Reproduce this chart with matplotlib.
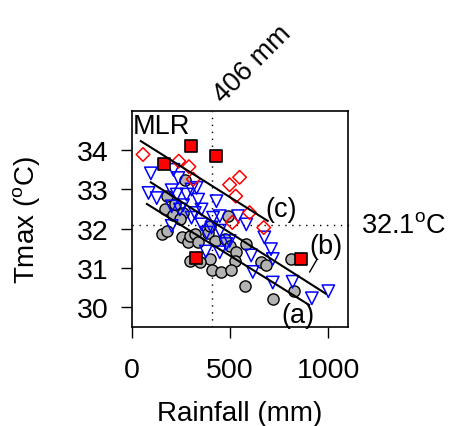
import numpy as np
import matplotlib
matplotlib.use('Agg')
import matplotlib.pyplot as plt

plt.rcParams['font.family'] = ['Liberation Sans', 'DejaVu Sans']
plt.rcParams['mathtext.fontset'] = 'custom'
plt.rcParams['mathtext.rm'] = 'Liberation Sans'

# red filled squares
sq_x = [298, 430, 165, 325, 860]
sq_y = [34.10, 33.86, 33.66, 31.26, 31.23]

# red open diamonds
dm_x = [56, 238, 290, 312, 497, 548, 528, 599, 511, 671]
dm_y = [33.89, 33.72, 33.58, 33.26, 33.12, 33.31, 32.83, 32.41, 32.16, 32.03]

# blue open triangles
tr_x = [96, 211, 236, 303, 329, 278, 84, 126, 202, 228, 337, 354, 430, 202, 244,
        303, 354, 413, 447, 540, 582, 202, 405, 447, 497, 480, 674, 708, 376, 447,
        607, 717, 615, 717, 818, 916, 1000, 260, 320, 380]
tr_y = [33.41, 33.50, 33.29, 33.00, 33.04, 32.87, 32.91, 32.78, 32.98, 32.87, 32.74,
        32.49, 32.70, 32.57, 32.49, 32.28, 32.11, 32.28, 32.32, 32.32, 32.11, 32.07,
        32.03, 31.95, 31.69, 31.61, 31.78, 31.48, 31.42, 31.40, 31.32, 31.23, 30.90,
        30.63, 30.65, 30.23, 30.41, 32.60, 32.40, 31.90]

# grey filled circles
ci_x = [177, 270, 169, 211, 261, 244, 152, 177, 253, 287, 295, 320, 337, 388, 422,
        396, 489, 472, 497, 531, 582, 523, 396, 346, 295, 405, 455, 506, 573, 658,
        683, 809, 826, 717, 219]
ci_y = [32.83, 33.25, 32.49, 32.36, 32.41, 32.24, 31.86, 31.94, 31.78, 31.65, 31.82,
        31.86, 31.65, 31.90, 31.69, 32.07, 32.32, 31.74, 31.57, 31.40, 31.61, 31.19,
        31.23, 31.15, 31.17, 30.94, 30.90, 30.94, 30.55, 31.15, 31.07, 31.23, 30.41,
        30.21, 32.62]

# regression lines (a), (b), (c)
line_a_x = [76, 902]
line_a_y = [32.63, 30.06]
line_b_x = [96, 986]
line_b_y = [33.18, 30.35]
line_c_x = [45, 691]
line_c_y = [34.23, 32.20]

rain_thr = 406
tmax_thr = 32.1

fig = plt.figure(figsize=(4.49, 4.27), dpi=100)
ax = fig.add_axes([0.294, 0.232, 0.481, 0.506])

dot = (0, (1, 4))
ax.axvline(rain_thr, color='black', ls=dot, lw=1)
ax.plot([0, 1.03], [tmax_thr, tmax_thr], transform=ax.get_yaxis_transform(),
        color='black', ls=dot, lw=1, clip_on=False)

ax.scatter(ci_x, ci_y, s=65, marker='o', facecolor='#b3b3b3', edgecolor='black', lw=1, zorder=3)
ax.scatter(tr_x, tr_y, s=80, marker='v', facecolor='none', edgecolor='blue', lw=1.1, zorder=4)
ax.scatter(dm_x, dm_y, s=48, marker='D', facecolor='none', edgecolor='red', lw=1.1, zorder=4)
ax.scatter(sq_x, sq_y, s=65, marker='s', facecolor='red', edgecolor='black', lw=1.2, zorder=5)

for lx, ly in [(line_a_x, line_a_y), (line_b_x, line_b_y), (line_c_x, line_c_y)]:
    ax.plot(lx, ly, color='black', lw=1.5, zorder=6)

ax.text(843, 29.8, '(a)', fontsize=19.5, ha='center', va='center')
ax.text(990, 31.56, '(b)', fontsize=19.5, ha='center', va='center')
ax.plot([940, 905], [31.2, 30.9], color='black', lw=1)
ax.text(761, 32.5, '(c)', fontsize=19.5, ha='center', va='center')
ax.text(5, 34.62, 'MLR', fontsize=19.5, ha='left', va='center')

ax.text(1.06, tmax_thr, '32.1$^{\\rm o}$C', transform=ax.get_yaxis_transform(),
        fontsize=19.5, ha='left', va='center')
ax.text(614, 36.2, '406 mm', fontsize=19.5, rotation=45,
        ha='center', va='center', clip_on=False)

ax.set_xlim(0, 1100)
ax.set_ylim(29.5, 35)
ax.set_xticks([0, 500, 1000])
ax.set_yticks([30, 31, 32, 33, 34])
ax.tick_params(direction='out', length=8, width=1, labelsize=20.5)
ax.tick_params(axis='x', pad=14)
ax.tick_params(axis='y', pad=9)
for sp in ax.spines.values():
    sp.set_linewidth(1.2)

ax.set_xlabel('Rainfall (mm)', fontsize=20)
ax.set_ylabel('Tmax ($^{\\rm o}$C)', fontsize=20)
ax.xaxis.set_label_coords(0.5, -0.34)
ax.yaxis.set_label_coords(-0.41, 0.5)

fig.savefig('out.png', dpi=100)
